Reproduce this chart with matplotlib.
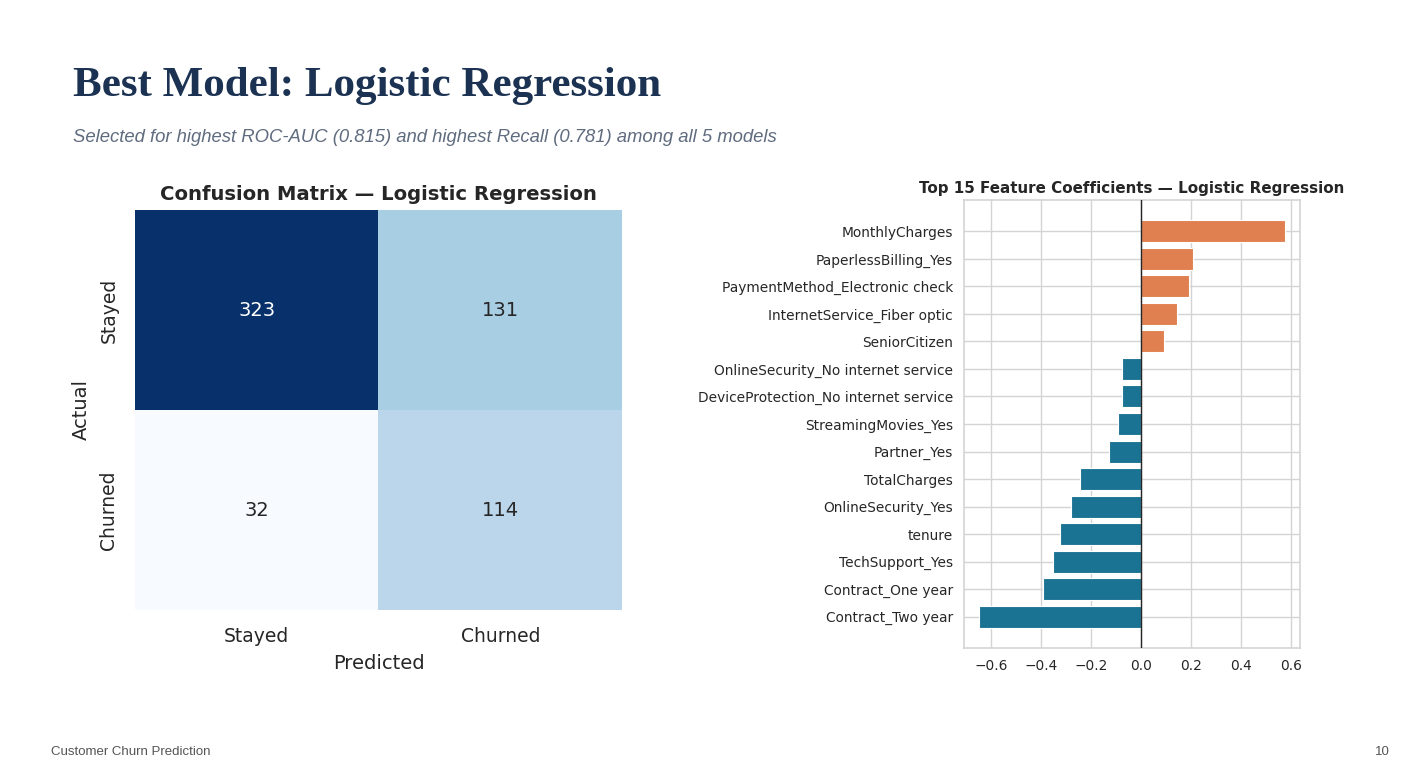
import numpy as np
import matplotlib
matplotlib.use('Agg')
import matplotlib.pyplot as plt

# confusion matrix (rows = actual, cols = predicted)
cm_labels = ['Stayed', 'Churned']
cm_values = np.array([[323, 131],
                      [32, 114]])

# top 15 logistic regression coefficients
features = ['MonthlyCharges', 'PaperlessBilling_Yes', 'PaymentMethod_Electronic check',
            'InternetService_Fiber optic', 'SeniorCitizen',
            'OnlineSecurity_No internet service', 'DeviceProtection_No internet service',
            'StreamingMovies_Yes', 'Partner_Yes', 'TotalCharges', 'OnlineSecurity_Yes',
            'tenure', 'TechSupport_Yes', 'Contract_One year', 'Contract_Two year']
coefs = [0.574, 0.206, 0.191, 0.145, 0.092,
         -0.075, -0.075, -0.094, -0.127, -0.244, -0.280,
         -0.324, -0.354, -0.394, -0.647]

W, H = 1404, 783
fig = plt.figure(figsize=(W / 100, H / 100), dpi=100)
fig.patch.set_facecolor('white')

def px_axes(x0, y0, x1, y1):
    return fig.add_axes([x0 / W, 1 - y1 / H, (x1 - x0) / W, (y1 - y0) / H])

# slide header
fig.text(73 / W, 1 - 86 / H, 'Best Model: Logistic Regression', fontsize=31,
         family='Liberation Serif', weight='bold', color='#1b3252', va='center')
fig.text(73 / W, 1 - 137 / H,
         'Selected for highest ROC-AUC (0.815) and highest Recall (0.781) among all 5 models',
         fontsize=13.3, family='Liberation Sans', style='italic', color='#5f6b7e',
         va='center')
fig.text(51 / W, 1 - 752 / H, 'Customer Churn Prediction', fontsize=9.5,
         family='Liberation Sans', color='#555555', va='center')
fig.text(1390 / W, 1 - 752 / H, '10', fontsize=9.5, family='Liberation Sans',
         color='#555555', va='center', ha='right')

############################################################################
# confusion matrix
ax1 = px_axes(135, 210, 622, 610)
ax1.imshow(cm_values, cmap='Blues', aspect='auto', vmin=cm_values.min(), vmax=cm_values.max())
thr = (cm_values.max() + cm_values.min()) / 2
for i in range(2):
    for j in range(2):
        v = cm_values[i, j]
        ax1.text(j, i, str(v), ha='center', va='center', fontsize=14,
                 color='white' if v > thr else '#262626')
ax1.set_xticks(range(2))
ax1.set_yticks(range(2))
ax1.set_xticklabels(cm_labels, fontsize=13.5, color='#262626')
ax1.set_yticklabels(cm_labels, fontsize=13.5, color='#262626', rotation=90, va='center')
ax1.tick_params(length=0, pad=12)
ax1.set_xlabel('Predicted', fontsize=14, color='#262626', labelpad=6)
ax1.set_ylabel('Actual', fontsize=14, color='#262626', labelpad=6)
ax1.set_title('Confusion Matrix — Logistic Regression', fontsize=14.1,
              weight='bold', color='#262626', pad=7)
for s in ax1.spines.values():
    s.set_visible(False)

############################################################################
# coefficient bar chart
ax2 = px_axes(964, 200, 1300, 648)
colors = ['#e07f4f' if c > 0 else '#1b7393' for c in coefs]
ax2.barh(range(len(features)), coefs, height=0.8, color=colors, edgecolor='white',
         linewidth=0.8, zorder=2)
ax2.axvline(0, color='#262626', linewidth=1, zorder=3)
ax2.set_yticks(range(len(features)))
ax2.set_yticklabels(features)
ax2.invert_yaxis()
ax2.set_xticks([-0.6, -0.4, -0.2, 0.0, 0.2, 0.4, 0.6])
ax2.set_xticklabels(['\u22120.6', '\u22120.4', '\u22120.2', '0.0', '0.2', '0.4', '0.6'])
ax2.tick_params(labelsize=9.9, colors='#262626', length=0, pad=8)
ax2.grid(True, color='#d4d4d4', linewidth=1, zorder=0)
ax2.set_axisbelow(True)
for s in ax2.spines.values():
    s.set_color('#d4d4d4')
    s.set_linewidth(1.2)
ax2.set_title('Top 15 Feature Coefficients — Logistic Regression', fontsize=10.9,
              weight='bold', color='#262626', pad=5)

fig.savefig('out.png', dpi=100, facecolor='white')
